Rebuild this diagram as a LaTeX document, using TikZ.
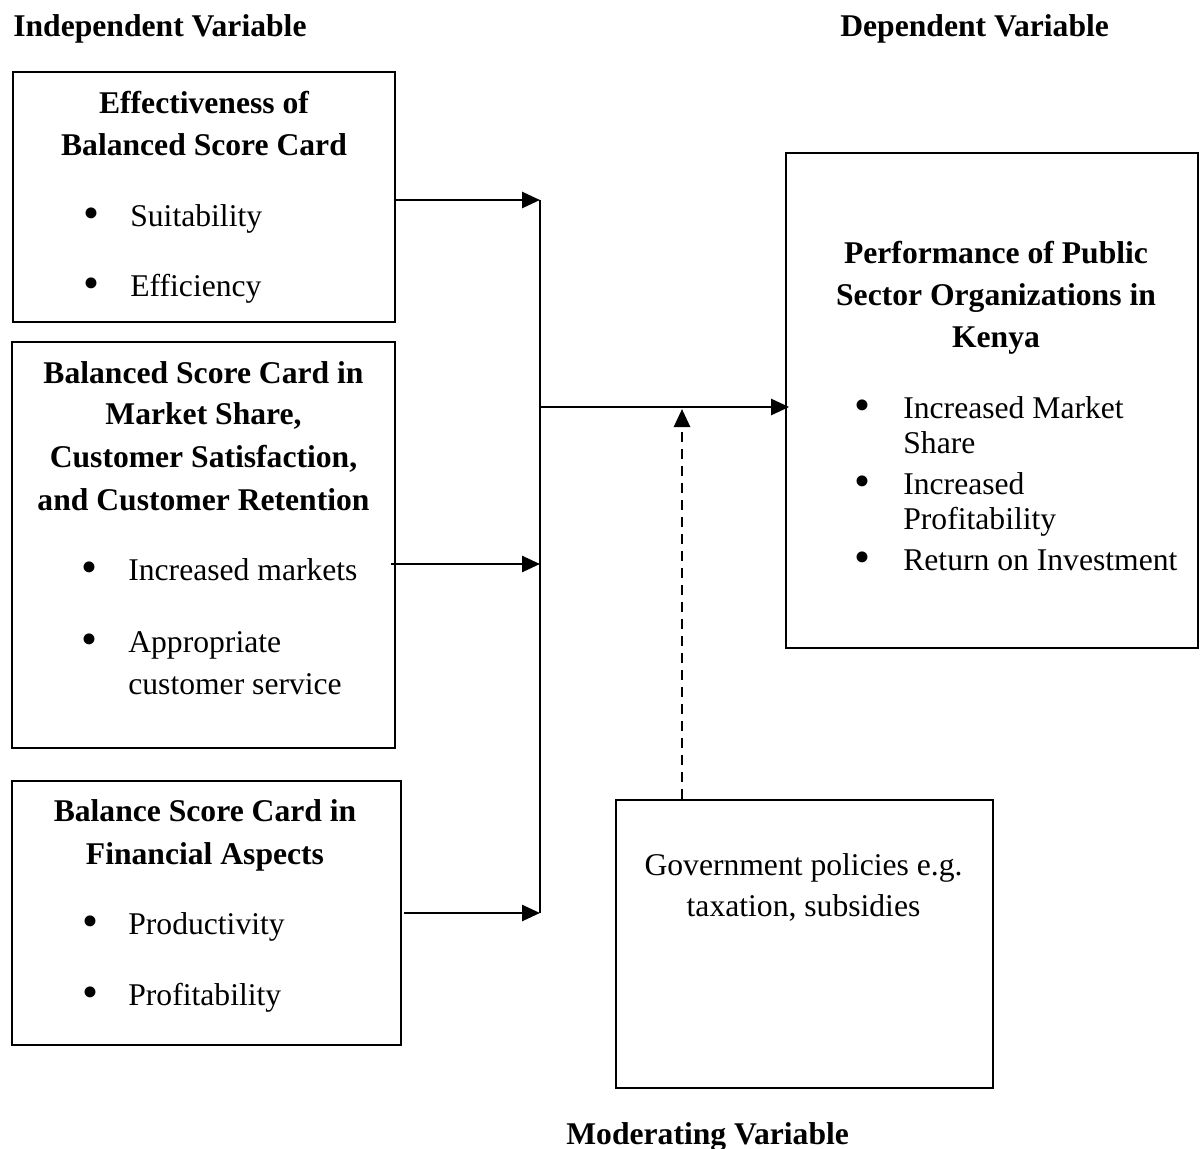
\documentclass[tikz,border=0pt]{standalone}
\usepackage{fontspec}
\setmainfont{Liberation Serif}
\usetikzlibrary{arrows.meta}

\begin{document}
\begin{tikzpicture}[x=0.02cm,y=-0.02cm]
\tikzset{
  every node/.style={inner sep=0pt, font=\fontsize{18}{24}\selectfont},
  box/.style={draw, line width=1.1pt, rectangle},
  head/.style={anchor=base, font=\fontsize{18}{24}\selectfont\bfseries},
  item/.style={anchor=base west},
  dot/.style={anchor=base, yshift=-0.04cm, font=\fontsize{26}{30}\selectfont},
  link/.style={line width=1.5pt, -{Triangle[length=0.36cm,width=0.32cm]}}
}
\useasboundingbox (0,0) rectangle (1200,1149);

% headings
\node[head, anchor=base west] (iv) at (13,37) {Independent Variable};
\node[head, anchor=base west] (dv) at (840,37) {Dependent Variable};
\node[head, anchor=base west] (mv) at (566,1144) {Moderating Variable};

% boxes
\node[box, minimum width=7.64cm, minimum height=5cm] (eff) at (204,197) {};
\node[box, minimum width=7.66cm, minimum height=8.12cm] (mkt) at (203.5,545) {};
\node[box, minimum width=7.78cm, minimum height=5.28cm] (fin) at (206.5,913) {};
\node[box, minimum width=8.24cm, minimum height=9.9cm] (perf) at (992,400.5) {};
\node[box, minimum width=7.54cm, minimum height=5.76cm] (gov) at (804.5,944) {};

% box texts
\foreach \y/\t in {113/Effectiveness of, 155/Balanced Score Card}
  \node[head] (eff\y) at (204,\y) {\t};
\foreach \y/\t in {226/Suitability, 296/Efficiency}
{
  \node[dot] (effb\y) at (91,\y) {•};
  \node[item] (efft\y) at (130,\y) {\t};
}

\foreach \y/\t in {383/Balanced Score Card in, 424/{Market Share,}, 467/{Customer Satisfaction,}, 510/and Customer Retention}
  \node[head] (mkt\y) at (203.5,\y) {\t};
\foreach \y in {580,652}
  \node[dot] (mktb\y) at (89,\y) {•};
\foreach \y/\t in {580/Increased markets, 652/Appropriate, 694/customer service}
  \node[item] (mktt\y) at (128,\y) {\t};

\foreach \y/\t in {821/Balance Score Card in, 864/Financial Aspects}
  \node[head] (fin\y) at (205,\y) {\t};
\foreach \y/\t in {934/Productivity, 1005/Profitability}
{
  \node[dot] (finb\y) at (90,\y) {•};
  \node[item] (fint\y) at (128,\y) {\t};
}

\foreach \y/\t in {263/Performance of Public, 305/Sector Organizations in, 347/Kenya}
  \node[head] (perf\y) at (996,\y) {\t};
\foreach \y in {418,494,570}
  \node[dot] (perfb\y) at (862,\y) {•};
\foreach \y/\t in {418/Increased Market, 453/Share, 494/Increased, 529/Profitability, 570/Return on Investment}
  \node[item] (perft\y) at (903,\y) {\t};

\node[anchor=base] (gov1) at (803.5,875) {Government policies e.g.};
\node[anchor=base] (gov2) at (803.5,916) {taxation, subsidies};

% connectors
\coordinate (j1) at (540,200);
\coordinate (j2) at (540,564);
\coordinate (j3) at (540,913);
\coordinate (j0) at (540,407);
\coordinate (jm) at (682,409);

\draw[line width=1.5pt] (j1) -- (j3);
\draw[link] (eff.east |- j1) -- (j1);
\draw[link] ([xshift=-0.1cm]mkt.east |- j2) -- (j2);
\draw[link] ([xshift=0.04cm]fin.east |- j3) -- (j3);
\draw[link] (j0) -- ([xshift=0.08cm]perf.west |- j0);
\draw[link, dash pattern=on 0.2cm off 0.14cm] (gov.north -| jm) -- (jm);

\end{tikzpicture}
\end{document}
